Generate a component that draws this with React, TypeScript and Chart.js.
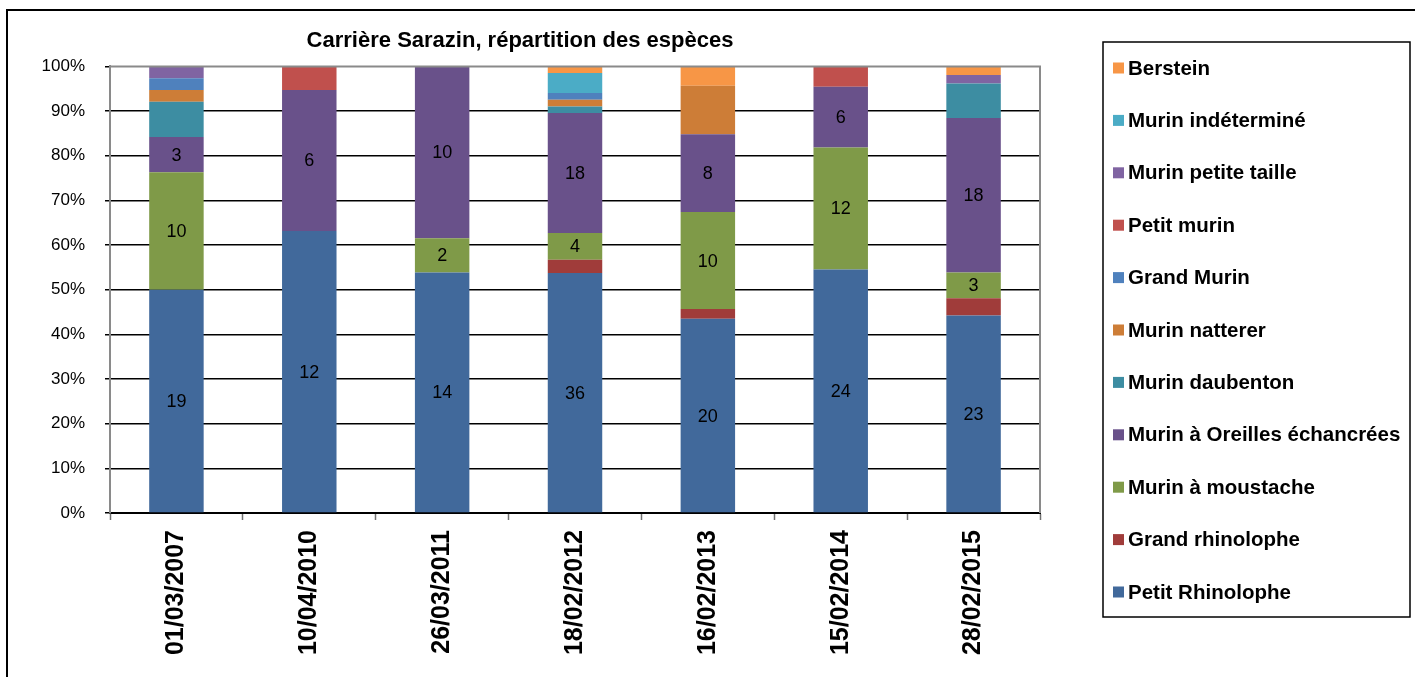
import { useEffect, useRef } from 'react';
import { Chart, registerables } from 'chart.js';

Chart.register(...registerables);

const dates = ['01/03/2007', '10/04/2010', '26/03/2011', '18/02/2012', '16/02/2013', '15/02/2014', '28/02/2015'];

const speciesNames = [
  'Petit Rhinolophe',
  'Grand rhinolophe',
  'Murin à moustache',
  'Murin à Oreilles échancrées',
  'Murin daubenton',
  'Murin natterer',
  'Grand Murin',
  'Petit murin',
  'Murin petite taille',
  'Murin indéterminé',
  'Berstein',
];

const petitRhinolophe = [19, 12, 14, 36, 20, 24, 23];
const grandRhinolophe = [0, 0, 0, 2, 1, 0, 2];
const murinMoustache = [10, 0, 2, 4, 10, 12, 3];
const murinOreilles = [3, 6, 10, 18, 8, 6, 18];
const murinDaubenton = [3, 0, 0, 1, 0, 0, 4];
const murinNatterer = [1, 0, 0, 1, 5, 0, 0];
const grandMurin = [1, 0, 0, 1, 0, 0, 0];
const petitMurin = [0, 1, 0, 0, 0, 2, 0];
const murinPetiteTaille = [1, 0, 0, 0, 0, 0, 1];
const murinIndetermine = [0, 0, 0, 3, 0, 0, 0];
const berstein = [0, 0, 0, 1, 2, 0, 1];

const seriesCounts = [
  petitRhinolophe,
  grandRhinolophe,
  murinMoustache,
  murinOreilles,
  murinDaubenton,
  murinNatterer,
  grandMurin,
  petitMurin,
  murinPetiteTaille,
  murinIndetermine,
  berstein,
];

const seriesColors = [
  '#41699B',
  '#A03C3A',
  '#7F9A48',
  '#69518A',
  '#3D8DA2',
  '#CD7D37',
  '#4F81BD',
  '#C0504D',
  '#8064A2',
  '#4BACC6',
  '#F79646',
];

// series that show their counts as labels
const labelledSeries = [0, 2, 3];

const yTickStep = 10;
const yMax = 100;

const FONT = "'Liberation Sans', Arial, sans-serif";

export default function App() {
  const canvasRef = useRef<HTMLCanvasElement | null>(null);

  useEffect(() => {
    document.body.style.margin = '0';
    const canvas = canvasRef.current;
    if (!canvas) return;

    const totals = dates.map((_, i) => seriesCounts.reduce((s, arr) => s + arr[i], 0));

    const datasets = speciesNames.map((name, k) => ({
      label: name,
      data: seriesCounts[k].map((v, i) => (v / totals[i]) * 100),
      counts: seriesCounts[k],
      backgroundColor: seriesColors[k],
      borderWidth: 0,
      categoryPercentage: 1,
      barPercentage: 0.41,
    }));

    const framePlugin = {
      id: 'frame',
      beforeDraw(chart: any) {
        const ctx = chart.ctx;
        ctx.save();
        ctx.fillStyle = '#ffffff';
        ctx.fillRect(0, 0, chart.width, chart.height);
        ctx.strokeStyle = '#000000';
        ctx.lineWidth = 2;
        ctx.strokeRect(7, 10, chart.width + 20, chart.height + 20);
        ctx.restore();
      },
      afterDraw(chart: any) {
        const ctx = chart.ctx;
        const a = chart.chartArea;
        ctx.save();
        // plot border top & right
        ctx.strokeStyle = '#8a8a8a';
        ctx.lineWidth = 2;
        ctx.beginPath();
        ctx.moveTo(a.left, a.top);
        ctx.lineTo(a.right, a.top);
        ctx.lineTo(a.right, a.bottom);
        ctx.stroke();

        // legend box
        const lx = 1103;
        const ly = 42;
        const lw = 307;
        const lh = 575;
        ctx.strokeStyle = '#000000';
        ctx.lineWidth = 1.5;
        ctx.strokeRect(lx, ly, lw, lh);

        const ds = chart.data.datasets;
        const n = ds.length;
        const step = 52.4;
        ctx.font = `bold 20.5px ${FONT}`;
        ctx.textBaseline = 'middle';
        ctx.textAlign = 'left';
        for (let j = 0; j < n; j++) {
          const d = ds[n - 1 - j];
          const cy = 68 + j * step;
          ctx.fillStyle = d.backgroundColor;
          ctx.fillRect(1113, cy - 5.5, 11, 11);
          ctx.fillStyle = '#000000';
          ctx.fillText(d.label, 1128, cy + 1);
        }
        ctx.restore();
      },
      afterDatasetsDraw(chart: any) {
        const ctx = chart.ctx;
        ctx.save();
        ctx.font = `18px ${FONT}`;
        ctx.fillStyle = '#000000';
        ctx.textAlign = 'center';
        ctx.textBaseline = 'middle';
        labelledSeries.forEach((k) => {
          const meta = chart.getDatasetMeta(k);
          const counts = chart.data.datasets[k].counts;
          meta.data.forEach((el: any, i: number) => {
            if (!counts[i]) return;
            const cy = (el.y + el.base) / 2;
            ctx.fillText(String(counts[i]), el.x, cy + 1);
          });
        });
        ctx.restore();
      },
    };

    const chart = new Chart(canvas, {
      type: 'bar',
      data: { labels: dates, datasets: datasets as any },
      plugins: [framePlugin],
      options: {
        responsive: false,
        animation: false,
        layout: { padding: { top: 14, left: 0, right: 375, bottom: 0 } },
        plugins: {
          legend: { display: false },
          tooltip: { enabled: false },
          title: {
            display: true,
            text: 'Carrière Sarazin, répartition des espèces',
            color: '#000000',
            font: { family: FONT, size: 22, weight: 'bold', lineHeight: 1.2 },
            padding: { top: 14, bottom: 12 },
          },
        },
        scales: {
          x: {
            stacked: true,
            afterFit(scale: any) {
              scale.height = 164;
            },
            border: { display: true, color: '#000000', width: 2 },
            grid: {
              offset: true,
              drawOnChartArea: false,
              drawTicks: true,
              tickLength: 7,
              tickColor: '#707070',
              tickWidth: 1.5,
            },
            ticks: {
              autoSkip: false,
              minRotation: 90,
              maxRotation: 90,
              padding: 10,
              color: '#000000',
              font: { family: FONT, size: 25, weight: 'bold' },
            },
          },
          y: {
            stacked: true,
            min: 0,
            max: yMax,
            afterFit(scale: any) {
              scale.width = 110;
            },
            border: { display: true, color: '#8a8a8a', width: 2 },
            grid: {
              color: (c: any) => (c.tick && c.tick.value === yMax ? 'rgba(0,0,0,0)' : '#000000'),
              lineWidth: 1.5,
              tickLength: 5,
              tickColor: '#000000',
            },
            ticks: {
              stepSize: yTickStep,
              padding: 20,
              color: '#000000',
              font: { family: FONT, size: 17 },
              callback: (v: any) => `${v}%`,
            },
          },
        },
      },
    });

    return () => {
      chart.destroy();
    };
  }, []);

  return (
    <div style={{ width: 1415, height: 677 }}>
      <canvas ref={canvasRef} width={1415} height={677} style={{ display: 'block' }} />
    </div>
  );
}
